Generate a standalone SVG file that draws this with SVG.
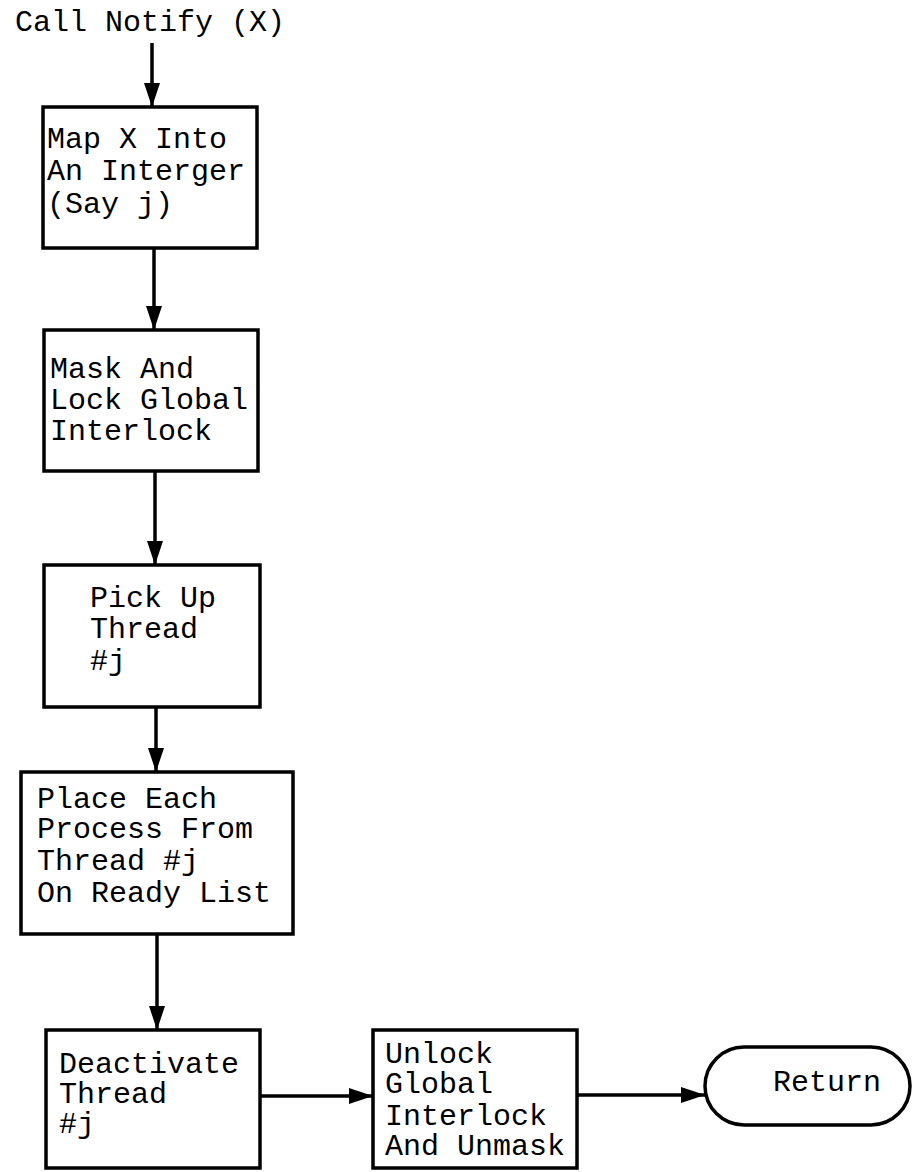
<svg xmlns="http://www.w3.org/2000/svg" width="912" height="1172" viewBox="0 0 912 1172">
<style>
.box{fill:#fff;stroke:#000;stroke-width:3.5}
.t{font-family:"Liberation Mono","Courier New",monospace;font-size:30px;fill:#000}
.c{fill:none;stroke:#000;stroke-width:3.5}
</style>
<defs>
<marker id="ah" viewBox="0 0 24 16" refX="24" refY="8" markerWidth="24" markerHeight="16" markerUnits="userSpaceOnUse" orient="auto">
<path d="M0,0 L24,8 L0,16 Z" fill="#000"/>
</marker>
</defs>
<rect width="912" height="1172" fill="#fff"/>
<g id="start"><text class="t" x="15" y="31">Call Notify (X)</text></g>
<g id="connectors">
<line class="c" x1="152" y1="43" x2="152" y2="107" marker-end="url(#ah)"/>
<line class="c" x1="154" y1="248" x2="154" y2="330" marker-end="url(#ah)"/>
<line class="c" x1="155" y1="471" x2="155" y2="565" marker-end="url(#ah)"/>
<line class="c" x1="156" y1="707" x2="156" y2="772" marker-end="url(#ah)"/>
<line class="c" x1="157" y1="934" x2="157" y2="1030" marker-end="url(#ah)"/>
<line class="c" x1="260" y1="1096" x2="373" y2="1096" marker-end="url(#ah)"/>
<line class="c" x1="577" y1="1095" x2="705" y2="1095" marker-end="url(#ah)"/>
</g>
<g id="map">
<rect class="box" x="43" y="107" width="214" height="141"/>
<text class="t" x="47" y="148">Map X Into</text>
<text class="t" x="47" y="180">An Interger</text>
<text class="t" x="47" y="213">(Say j)</text>
</g>
<g id="mask">
<rect class="box" x="44" y="330" width="214" height="141"/>
<text class="t" x="50" y="378">Mask And</text>
<text class="t" x="50" y="409">Lock Global</text>
<text class="t" x="50" y="440">Interlock</text>
</g>
<g id="pickup">
<rect class="box" x="44" y="565" width="216" height="142"/>
<text class="t" x="90" y="607">Pick Up</text>
<text class="t" x="90" y="638">Thread</text>
<text class="t" x="90" y="670">#j</text>
</g>
<g id="place">
<rect class="box" x="21" y="772" width="272" height="162"/>
<text class="t" x="37" y="808">Place Each</text>
<text class="t" x="37" y="838">Process From</text>
<text class="t" x="37" y="870">Thread #j</text>
<text class="t" x="37" y="902">On Ready List</text>
</g>
<g id="deactivate">
<rect class="box" x="46" y="1030" width="214" height="138"/>
<text class="t" x="59" y="1073">Deactivate</text>
<text class="t" x="59" y="1103">Thread</text>
<text class="t" x="59" y="1133">#j</text>
</g>
<g id="unlock">
<rect class="box" x="373" y="1030" width="204" height="138"/>
<text class="t" x="385" y="1063">Unlock</text>
<text class="t" x="385" y="1093">Global</text>
<text class="t" x="385" y="1125">Interlock</text>
<text class="t" x="385" y="1155">And Unmask</text>
</g>
<g id="return">
<rect class="box" x="705" y="1047" width="205" height="78" rx="39" ry="39"/>
<text class="t" x="773" y="1091">Return</text>
</g>
</svg>
